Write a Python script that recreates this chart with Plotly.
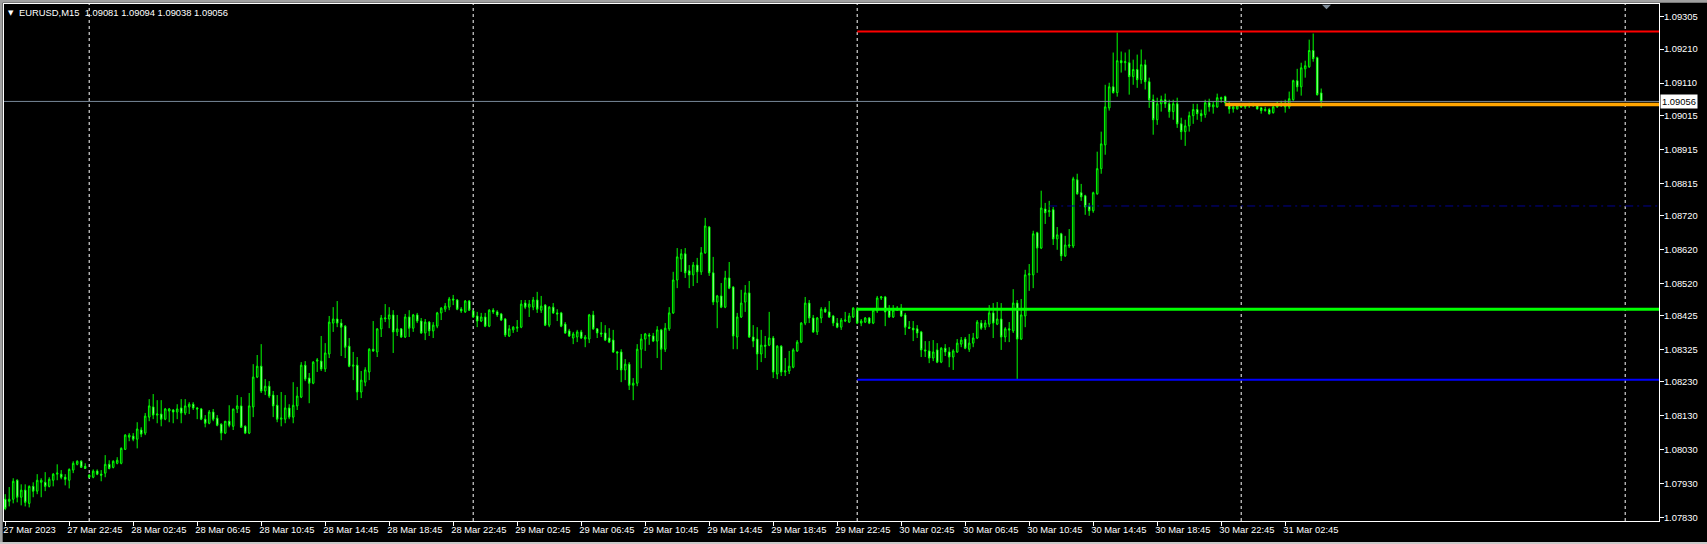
import plotly.graph_objects as go
import pandas as pd

# ---------------- data (EURUSD M15) ----------------
start_time = "2023-03-27 18:45"

opens = [
1.07884,1.07878,1.07884,1.07940,1.07890,1.07911,1.07872,1.07922,1.07908,1.07934,
1.07934,1.07922,1.07940,1.07958,1.07958,1.07949,1.07940,1.07970,1.07987,1.07996,
1.07981,1.07955,1.07949,1.07967,1.07958,1.07961,1.07987,1.07978,1.07990,1.07990,
1.08031,1.08067,1.08070,1.08061,1.08088,1.08079,1.08126,1.08156,1.08132,1.08135,
1.08120,1.08144,1.08147,1.08141,1.08153,1.08138,1.08156,1.08164,1.08153,1.08150,
1.08120,1.08108,1.08141,1.08123,1.08105,1.08079,1.08114,1.08099,1.08150,1.08159,
1.08099,1.08079,1.08156,1.08244,1.08276,1.08203,1.08217,1.08191,1.08161,1.08120,
1.08120,1.08153,1.08126,1.08159,1.08185,1.08279,1.08241,1.08226,1.08291,1.08291,
1.08268,1.08312,1.08403,1.08415,1.08403,1.08394,1.08335,1.08276,1.08279,1.08200,
1.08229,1.08259,1.08326,1.08318,1.08386,1.08415,1.08415,1.08427,1.08377,1.08386,
1.08362,1.08421,1.08388,1.08427,1.08409,1.08374,1.08406,1.08380,1.08394,1.08433,
1.08444,1.08450,1.08474,1.08471,1.08444,1.08436,1.08468,1.08439,1.08424,1.08409,
1.08421,1.08394,1.08441,1.08436,1.08430,1.08415,1.08365,1.08383,1.08388,1.08391,
1.08462,1.08450,1.08450,1.08471,1.08441,1.08456,1.08397,1.08450,1.08433,1.08433,
1.08400,1.08380,1.08359,1.08362,1.08377,1.08356,1.08356,1.08427,1.08386,1.08374,
1.08374,1.08359,1.08353,1.08318,1.08318,1.08265,1.08282,1.08220,1.08226,1.08326,
1.08356,1.08368,1.08365,1.08350,1.08383,1.08326,1.08386,1.08433,1.08530,1.08592,
1.08607,1.08557,1.08545,1.08574,1.08554,1.08610,1.08686,1.08551,1.08465,1.08483,
1.08450,1.08536,1.08509,1.08362,1.08421,1.08465,1.08492,1.08362,1.08356,1.08312,
1.08338,1.08338,1.08359,1.08253,1.08335,1.08259,1.08262,1.08273,1.08321,1.08347,
1.08403,1.08462,1.08418,1.08377,1.08418,1.08444,1.08436,1.08424,1.08403,1.08391,
1.08409,1.08406,1.08421,1.08444,1.08403,1.08406,1.08418,1.08403,1.08439,1.08477,
1.08480,1.08441,1.08421,1.08441,1.08447,1.08427,1.08391,1.08388,1.08386,1.08377,
1.08324,1.08321,1.08300,1.08324,1.08288,1.08329,1.08318,1.08303,1.08318,1.08341,
1.08356,1.08326,1.08344,1.08359,1.08403,1.08391,1.08400,1.08433,1.08400,1.08415,
1.08362,1.08386,1.08380,1.08462,1.08356,1.08424,1.08545,1.08545,1.08669,1.08624,
1.08739,1.08731,1.08737,1.08651,1.08666,1.08601,1.08630,1.08630,1.08825,1.08787,
1.08778,1.08748,1.08734,1.08784,1.08858,1.08928,1.09037,1.09099,1.09082,1.09176,
1.09170,1.09170,1.09129,1.09150,1.09120,1.09164,1.09114,1.09061,1.09002,1.09049,
1.09061,1.09049,1.09026,1.09049,1.08990,1.08967,1.08984,1.09014,1.09032,1.09020,
1.09017,1.09052,1.09040,1.09040,1.09067,1.09070,1.09046,1.09034,1.09034,1.09043,
1.09040,1.09043,1.09049,1.09043,1.09037,1.09029,1.09032,1.09023,1.09040,1.09043,
1.09040,1.09040,1.09061,1.09117,1.09099,1.09152,1.09158,1.09206,1.09185,1.09081,
]

highs = [
1.07899,1.07920,1.07946,1.07943,1.07928,1.07928,1.07925,1.07934,1.07958,1.07946,
1.07964,1.07949,1.07961,1.07987,1.07970,1.07958,1.07975,1.07996,1.07999,1.07999,
1.07990,1.07958,1.07972,1.07972,1.07970,1.08014,1.07999,1.07999,1.08008,1.08037,
1.08076,1.08079,1.08079,1.08111,1.08096,1.08138,1.08179,1.08194,1.08176,1.08176,
1.08153,1.08153,1.08150,1.08164,1.08179,1.08179,1.08170,1.08170,1.08156,1.08153,
1.08132,1.08147,1.08150,1.08132,1.08108,1.08114,1.08161,1.08150,1.08191,1.08185,
1.08102,1.08197,1.08282,1.08309,1.08341,1.08238,1.08232,1.08203,1.08191,1.08200,
1.08191,1.08164,1.08229,1.08215,1.08288,1.08291,1.08256,1.08291,1.08300,1.08365,
1.08344,1.08424,1.08450,1.08468,1.08415,1.08397,1.08359,1.08318,1.08303,1.08262,
1.08273,1.08329,1.08409,1.08388,1.08427,1.08459,1.08450,1.08441,1.08427,1.08388,
1.08430,1.08441,1.08430,1.08433,1.08418,1.08415,1.08409,1.08406,1.08436,1.08450,
1.08462,1.08480,1.08486,1.08474,1.08450,1.08471,1.08471,1.08441,1.08436,1.08433,
1.08433,1.08444,1.08447,1.08441,1.08433,1.08418,1.08397,1.08394,1.08412,1.08471,
1.08471,1.08471,1.08480,1.08495,1.08483,1.08459,1.08453,1.08462,1.08444,1.08436,
1.08406,1.08386,1.08377,1.08383,1.08383,1.08368,1.08430,1.08439,1.08388,1.08406,
1.08397,1.08388,1.08383,1.08321,1.08326,1.08297,1.08288,1.08241,1.08341,1.08371,
1.08374,1.08374,1.08374,1.08394,1.08386,1.08403,1.08450,1.08554,1.08624,1.08621,
1.08624,1.08574,1.08583,1.08595,1.08627,1.08713,1.08689,1.08598,1.08486,1.08521,
1.08557,1.08583,1.08512,1.08433,1.08501,1.08515,1.08527,1.08397,1.08391,1.08383,
1.08365,1.08436,1.08365,1.08338,1.08338,1.08300,1.08321,1.08329,1.08353,1.08406,
1.08480,1.08471,1.08427,1.08421,1.08450,1.08450,1.08468,1.08427,1.08418,1.08418,
1.08436,1.08433,1.08450,1.08450,1.08415,1.08421,1.08421,1.08444,1.08483,1.08483,
1.08483,1.08456,1.08456,1.08453,1.08459,1.08433,1.08409,1.08409,1.08397,1.08380,
1.08350,1.08350,1.08353,1.08344,1.08332,1.08341,1.08332,1.08326,1.08356,1.08362,
1.08362,1.08371,1.08374,1.08412,1.08412,1.08412,1.08456,1.08462,1.08465,1.08462,
1.08391,1.08406,1.08503,1.08471,1.08474,1.08560,1.08577,1.08675,1.08672,1.08793,
1.08757,1.08763,1.08745,1.08686,1.08669,1.08660,1.08680,1.08834,1.08843,1.08813,
1.08781,1.08757,1.08790,1.08908,1.08967,1.09105,1.09111,1.09200,1.09259,1.09203,
1.09200,1.09209,1.09179,1.09194,1.09209,1.09179,1.09126,1.09076,1.09067,1.09073,
1.09079,1.09061,1.09061,1.09067,1.09008,1.09002,1.09026,1.09049,1.09049,1.09032,
1.09061,1.09064,1.09055,1.09079,1.09070,1.09073,1.09055,1.09043,1.09046,1.09049,
1.09046,1.09052,1.09052,1.09046,1.09040,1.09040,1.09037,1.09043,1.09055,1.09058,
1.09061,1.09085,1.09120,1.09152,1.09170,1.09176,1.09238,1.09256,1.09188,1.09094,
]

lows = [
1.07852,1.07863,1.07872,1.07875,1.07866,1.07863,1.07860,1.07890,1.07899,1.07890,
1.07908,1.07919,1.07922,1.07940,1.07943,1.07925,1.07916,1.07961,1.07984,1.07978,
1.07975,1.07949,1.07946,1.07955,1.07937,1.07949,1.07972,1.07975,1.07987,1.07987,
1.08029,1.08055,1.08055,1.08034,1.08067,1.08073,1.08114,1.08120,1.08108,1.08099,
1.08117,1.08111,1.08108,1.08120,1.08108,1.08132,1.08135,1.08147,1.08120,1.08117,
1.08096,1.08105,1.08114,1.08099,1.08058,1.08076,1.08096,1.08088,1.08138,1.08096,
1.08076,1.08076,1.08126,1.08241,1.08197,1.08191,1.08182,1.08126,1.08111,1.08099,
1.08108,1.08120,1.08108,1.08147,1.08182,1.08232,1.08167,1.08223,1.08259,1.08262,
1.08259,1.08300,1.08377,1.08391,1.08306,1.08300,1.08273,1.08235,1.08176,1.08182,
1.08217,1.08235,1.08318,1.08303,1.08362,1.08406,1.08388,1.08315,1.08365,1.08359,
1.08359,1.08362,1.08377,1.08403,1.08371,1.08353,1.08365,1.08359,1.08388,1.08412,
1.08436,1.08441,1.08456,1.08441,1.08433,1.08433,1.08439,1.08418,1.08391,1.08406,
1.08391,1.08391,1.08430,1.08421,1.08409,1.08362,1.08362,1.08374,1.08377,1.08388,
1.08444,1.08421,1.08441,1.08433,1.08433,1.08394,1.08391,1.08430,1.08409,1.08391,
1.08371,1.08362,1.08341,1.08347,1.08356,1.08332,1.08344,1.08383,1.08359,1.08362,
1.08350,1.08344,1.08315,1.08265,1.08229,1.08235,1.08206,1.08176,1.08217,1.08270,
1.08321,1.08339,1.08347,1.08300,1.08265,1.08318,1.08380,1.08430,1.08506,1.08554,
1.08536,1.08506,1.08512,1.08521,1.08545,1.08607,1.08542,1.08456,1.08388,1.08447,
1.08447,1.08503,1.08326,1.08326,1.08418,1.08436,1.08359,1.08332,1.08265,1.08288,
1.08300,1.08335,1.08241,1.08238,1.08247,1.08247,1.08253,1.08270,1.08318,1.08344,
1.08397,1.08403,1.08374,1.08368,1.08403,1.08433,1.08418,1.08394,1.08388,1.08383,
1.08406,1.08403,1.08418,1.08400,1.08394,1.08403,1.08400,1.08400,1.08433,1.08471,
1.08394,1.08418,1.08418,1.08439,1.08421,1.08368,1.08386,1.08350,1.08359,1.08303,
1.08303,1.08285,1.08291,1.08285,1.08285,1.08306,1.08273,1.08265,1.08315,1.08332,
1.08326,1.08318,1.08332,1.08356,1.08383,1.08383,1.08391,1.08359,1.08397,1.08324,
1.08347,1.08347,1.08374,1.08238,1.08353,1.08391,1.08498,1.08506,1.08551,1.08621,
1.08695,1.08716,1.08633,1.08619,1.08586,1.08598,1.08624,1.08624,1.08781,1.08763,
1.08722,1.08719,1.08728,1.08781,1.08843,1.08899,1.09029,1.09079,1.09070,1.09141,
1.09147,1.09076,1.09105,1.09096,1.09108,1.09091,1.09037,1.08958,1.08987,1.09026,
1.09037,1.09008,1.09002,1.08978,1.08943,1.08925,1.08967,1.08990,1.09002,1.08996,
1.09008,1.09026,1.09020,1.09037,1.09052,1.09043,1.09020,1.09023,1.09032,1.09037,
1.09034,1.09037,1.09040,1.09032,1.09020,1.09026,1.09017,1.09020,1.09037,1.09040,
1.09023,1.09034,1.09058,1.09085,1.09073,1.09126,1.09155,1.09173,1.09073,1.09038,
]

closes = [
1.07857,1.07884,1.07937,1.07890,1.07911,1.07875,1.07922,1.07908,1.07940,1.07940,
1.07922,1.07943,1.07958,1.07961,1.07949,1.07943,1.07972,1.07990,1.07996,1.07978,
1.07975,1.07949,1.07967,1.07958,1.07955,1.07987,1.07975,1.07996,1.07999,1.08034,
1.08073,1.08073,1.08061,1.08091,1.08076,1.08129,1.08159,1.08132,1.08135,1.08120,
1.08150,1.08150,1.08141,1.08150,1.08138,1.08159,1.08164,1.08153,1.08150,1.08120,
1.08108,1.08141,1.08120,1.08102,1.08079,1.08114,1.08102,1.08150,1.08159,1.08096,
1.08079,1.08159,1.08244,1.08276,1.08203,1.08217,1.08188,1.08159,1.08120,1.08123,
1.08153,1.08126,1.08161,1.08188,1.08279,1.08238,1.08226,1.08288,1.08294,1.08268,
1.08315,1.08406,1.08415,1.08403,1.08391,1.08332,1.08276,1.08279,1.08200,1.08235,
1.08265,1.08326,1.08321,1.08386,1.08418,1.08418,1.08427,1.08377,1.08386,1.08362,
1.08421,1.08388,1.08427,1.08409,1.08374,1.08406,1.08380,1.08397,1.08433,1.08447,
1.08453,1.08474,1.08471,1.08444,1.08439,1.08468,1.08441,1.08421,1.08409,1.08421,
1.08394,1.08441,1.08436,1.08427,1.08412,1.08368,1.08386,1.08391,1.08391,1.08459,
1.08450,1.08459,1.08471,1.08444,1.08453,1.08397,1.08450,1.08433,1.08430,1.08394,
1.08374,1.08365,1.08371,1.08377,1.08359,1.08362,1.08427,1.08386,1.08374,1.08371,
1.08353,1.08347,1.08318,1.08315,1.08265,1.08282,1.08220,1.08226,1.08326,1.08356,
1.08371,1.08365,1.08350,1.08383,1.08326,1.08388,1.08433,1.08530,1.08598,1.08607,
1.08551,1.08545,1.08574,1.08554,1.08610,1.08689,1.08551,1.08465,1.08483,1.08450,
1.08536,1.08506,1.08365,1.08421,1.08462,1.08492,1.08362,1.08350,1.08312,1.08338,
1.08335,1.08359,1.08259,1.08335,1.08259,1.08262,1.08276,1.08324,1.08347,1.08403,
1.08462,1.08418,1.08377,1.08418,1.08444,1.08436,1.08421,1.08403,1.08391,1.08412,
1.08412,1.08424,1.08447,1.08403,1.08409,1.08418,1.08403,1.08441,1.08477,1.08480,
1.08436,1.08421,1.08441,1.08447,1.08424,1.08391,1.08388,1.08383,1.08374,1.08324,
1.08321,1.08300,1.08318,1.08288,1.08329,1.08318,1.08303,1.08321,1.08344,1.08353,
1.08329,1.08344,1.08359,1.08406,1.08388,1.08403,1.08433,1.08403,1.08415,1.08362,
1.08386,1.08383,1.08462,1.08356,1.08427,1.08545,1.08548,1.08666,1.08624,1.08742,
1.08728,1.08734,1.08651,1.08663,1.08601,1.08633,1.08633,1.08828,1.08784,1.08775,
1.08745,1.08734,1.08787,1.08858,1.08931,1.09040,1.09099,1.09082,1.09176,1.09170,
1.09173,1.09129,1.09150,1.09120,1.09164,1.09114,1.09061,1.09002,1.09049,1.09061,
1.09049,1.09026,1.09049,1.08990,1.08967,1.08984,1.09014,1.09032,1.09020,1.09014,
1.09052,1.09040,1.09046,1.09067,1.09064,1.09052,1.09034,1.09040,1.09043,1.09040,
1.09043,1.09049,1.09043,1.09034,1.09029,1.09032,1.09020,1.09040,1.09043,1.09046,
1.09043,1.09064,1.09117,1.09099,1.09155,1.09161,1.09206,1.09182,1.09076,1.09056,
]

# y axis labels as printed by the terminal
price_ticks = [1.07830, 1.07930, 1.08030, 1.08130, 1.08230, 1.08325, 1.08425, 1.08520,
               1.08620, 1.08720, 1.08815, 1.08915, 1.09015, 1.09110, 1.09210, 1.09305]

# x axis labels (every 16 bars = 4 hours)
time_labels = ["27 Mar 2023", "27 Mar 22:45", "28 Mar 02:45", "28 Mar 06:45", "28 Mar 10:45",
               "28 Mar 14:45", "28 Mar 18:45", "28 Mar 22:45", "29 Mar 02:45", "29 Mar 06:45",
               "29 Mar 10:45", "29 Mar 14:45", "29 Mar 18:45", "29 Mar 22:45", "30 Mar 02:45",
               "30 Mar 06:45", "30 Mar 10:45", "30 Mar 14:45", "30 Mar 18:45", "30 Mar 22:45",
               "31 Mar 02:45"]
label_step = 16

# day separators (bar index of 00:00)
day_starts = [21, 117, 213, 309, 405]

# horizontal objects: (price, start bar, colour, width, dash)
level_prices = [1.09262, 1.08444, 1.08236, 1.09047, 1.08748]
level_starts = [213, 213, 213, 305, 261]
level_colors = ["#FF0000", "#00FF00", "#0000FF", "#FFA500", "#000090"]
level_widths = [2, 3, 2, 3.5, 1]
level_dashes = ["solid", "solid", "solid", "solid", "8px,4px,2px,4px"]

bid_price = 1.09056
symbol_title = "EURUSD,M15"

# ---------------- figure ----------------
n = len(closes)
idx = list(range(n))
times = pd.date_range(start_time, periods=n, freq="15min")

FONT = "Liberation Sans"
FS = 9.4
GREEN = "#00FF00"

fig = go.Figure()
fig.add_trace(go.Candlestick(
    x=idx, open=opens, high=highs, low=lows, close=closes,
    increasing=dict(line=dict(color=GREEN, width=1), fillcolor="#000000"),
    decreasing=dict(line=dict(color=GREEN, width=1), fillcolor="#FFFFFF"),
    whiskerwidth=0, showlegend=False,
    text=[t.strftime("%d %b %H:%M") for t in times], hoverinfo="text+y",
))

x_lo, x_hi = -0.3, 413.45
y_lo, y_hi = 1.07820, 1.09343

shapes = []
# day separators (behind candles)
for d in day_starts:
    shapes.append(dict(type="line", xref="x", yref="paper", x0=d, x1=d, y0=0, y1=1,
                       line=dict(color="#FFFFFF", width=1, dash="3px,3px"), layer="below"))
# bid line
shapes.append(dict(type="line", xref="x", yref="y", x0=x_lo, x1=x_hi + 5, y0=bid_price, y1=bid_price,
                   line=dict(color="#778899", width=1)))
# horizontal objects
for p, s, c, w, dsh in zip(level_prices, level_starts, level_colors, level_widths, level_dashes):
    shapes.append(dict(type="line", xref="x", yref="y", x0=s, x1=x_hi + 5, y0=p, y1=p,
                       line=dict(color=c, width=w, dash=dsh)))
# shift marker at the top
shapes.append(dict(type="path", xref="paper", yref="paper",
                   path="M 0.79637,0.99865 L 0.80181,0.99865 L 0.79909,0.98975 Z",
                   fillcolor="#7f8c99", line=dict(width=0)))
# window frame strips
shapes.append(dict(type="rect", xref="paper", yref="paper", x0=-0.0025, x1=1.03, y0=1.0025, y1=1.0078,
                   fillcolor="#a0a0a0", line=dict(width=0)))
shapes.append(dict(type="rect", xref="paper", yref="paper", x0=-0.0025, x1=-0.0008, y0=-0.045, y1=1.0078,
                   fillcolor="#a0a0a0", line=dict(width=0)))
shapes.append(dict(type="rect", xref="paper", yref="paper", x0=-0.0025, x1=1.03, y0=-0.0445, y1=-0.0408,
                   fillcolor="#c8c8c8", line=dict(width=0)))

annotations = [
    dict(xref="paper", yref="paper", x=0, y=1, xanchor="left", yanchor="middle",
         xshift=2, yshift=-8.5, text="▼", showarrow=False,
         font=dict(family="DejaVu Sans", size=7, color="#FFFFFF")),
    dict(xref="paper", yref="paper", x=0, y=1, xanchor="left", yanchor="middle",
         xshift=13, yshift=-8.5, showarrow=False,
         text=f"{symbol_title}&nbsp;&nbsp;{opens[-1]:.5f} {highs[-1]:.5f} {lows[-1]:.5f} {closes[-1]:.5f}",
         font=dict(family=FONT, size=FS, color="#FFFFFF")),
    dict(xref="paper", yref="y", x=1, y=bid_price, xanchor="left", yanchor="middle",
         xshift=1, text=f"{bid_price:.5f}", showarrow=False, bgcolor="#FFFFFF",
         borderpad=1, font=dict(family=FONT, size=FS, color="#000000")),
]

fig.update_layout(
    width=1707, height=544,
    margin=dict(l=4, r=48, t=4, b=23, autoexpand=False),
    paper_bgcolor="#000000", plot_bgcolor="#000000",
    boxgap=0.45,
    shapes=shapes, annotations=annotations,
    showlegend=False, hovermode="closest",
    xaxis=dict(range=[x_lo, x_hi], rangeslider=dict(visible=False),
               tickvals=[k * label_step for k in range(len(time_labels))], ticktext=time_labels,
               tickangle=0, automargin=False,
               ticks="outside", ticklen=4, tickcolor="#FFFFFF", ticklabelposition="outside right",
               tickfont=dict(family=FONT, size=FS, color="#FFFFFF"),
               showgrid=False, zeroline=False, showline=True, linecolor="#FFFFFF", linewidth=1,
               mirror=True),
    yaxis=dict(range=[y_lo, y_hi], side="right", automargin=False,
               tickvals=price_ticks, ticktext=[f"{v:.5f}" for v in price_ticks],
               ticks="outside", ticklen=4, tickcolor="#FFFFFF",
               tickfont=dict(family=FONT, size=FS, color="#FFFFFF"),
               showgrid=False, zeroline=False, showline=True, linecolor="#FFFFFF", linewidth=1,
               mirror=True),
)

# nudge tick labels closer to their ticks, as the terminal draws them
try:
    fig.update_xaxes(ticklabelshift=-3)
except ValueError:
    pass
try:
    fig.update_yaxes(ticklabelstandoff=-2)
except ValueError:
    pass

fig.write_html("out.html", config={"displayModeBar": False},
               post_script="document.body.style.margin='0px';document.body.style.background='#000';")
